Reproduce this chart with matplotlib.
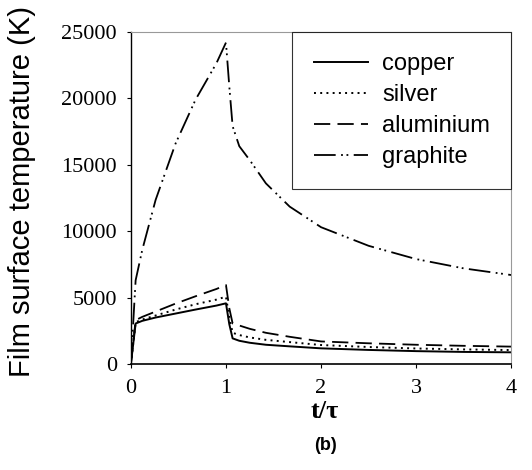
import numpy as np
import matplotlib.pyplot as plt

# data (t/tau, surface temperature in K)
t = [0, 0.05, 0.12, 0.26, 0.47, 0.68, 0.9, 1.0, 1.035, 1.07, 1.14, 1.25, 1.42, 1.67, 2.0, 2.5, 3.0, 3.5, 4.0]

copper = [0, 3050, 3250, 3500, 3800, 4100, 4400, 4570, 3000, 1930, 1750, 1600, 1450, 1330, 1180, 1060, 970, 910, 880]
silver = [0, 3150, 3350, 3650, 4100, 4500, 4850, 5070, 3500, 2350, 2180, 2000, 1820, 1650, 1430, 1280, 1170, 1100, 1050]
aluminium = [0, 3300, 3550, 3950, 4550, 5100, 5650, 5950, 4200, 3050, 2900, 2650, 2350, 2050, 1700, 1560, 1450, 1370, 1310]
graphite = [0, 6300, 8600, 12350, 16600, 19900, 22650, 24200, 20900, 17900, 16400, 15350, 13600, 11850, 10300, 8900, 7900, 7200, 6700]

labels = ['copper', 'silver', 'aluminium', 'graphite']

fig = plt.figure(figsize=(5.32, 4.70), dpi=100)
ax = fig.add_axes([0.246, 0.2255, 0.715, 0.7065])

ax.plot(t, copper, color='black', lw=1.4, ls='-', label=labels[0])
ax.plot(t, silver, color='black', lw=1.4, ls=(0, (1, 2.2)), label=labels[1])
ax.plot(t, aluminium, color='black', lw=1.3, ls=(0, (9, 4)), label=labels[2])
ax.plot(t, graphite, color='black', lw=1.3, ls=(0, (12, 3, 1, 2, 1, 3)), label=labels[3])

ax.set_xlim(0, 4)
ax.set_ylim(0, 25000)
ax.set_xticks([0, 1, 2, 3, 4])
ax.set_yticks(np.arange(0, 25001, 5000))

for lab in ax.get_xticklabels() + ax.get_yticklabels():
    lab.set_family('Liberation Serif')
    lab.set_fontsize(16)
ax.tick_params(axis='y', direction='out', length=3, width=0.8, pad=7)
ax.tick_params(axis='x', direction='out', length=3, width=0.8, pad=8)

for s in ['top', 'right']:
    ax.spines[s].set_color('#999999')
    ax.spines[s].set_linewidth(0.8)
ax.spines['left'].set_linewidth(1.0)
ax.spines['bottom'].set_linewidth(1.2)

ax.set_ylabel('Film surface temperature (K)', family='Liberation Sans', fontsize=21)
ax.yaxis.set_label_coords(-0.25, 0.52)
fig.text(0.611, 0.124, 't/τ', family='Liberation Serif', fontsize=19, fontweight='bold',
         ha='center', va='center')
fig.text(0.611, 0.053, '(b)', family='Liberation Sans', fontsize=13, fontweight='bold',
         ha='center', va='center')

leg = ax.legend(loc='upper right', prop={'family': 'Liberation Sans', 'size': 17},
                frameon=True, fancybox=False, handlelength=2.3, handletextpad=0.6,
                labelspacing=0.38, borderpad=0.9, borderaxespad=0.0)
leg.get_frame().set_edgecolor('black')
leg.get_frame().set_linewidth(0.8)

fig.savefig('out.png', dpi=100)
